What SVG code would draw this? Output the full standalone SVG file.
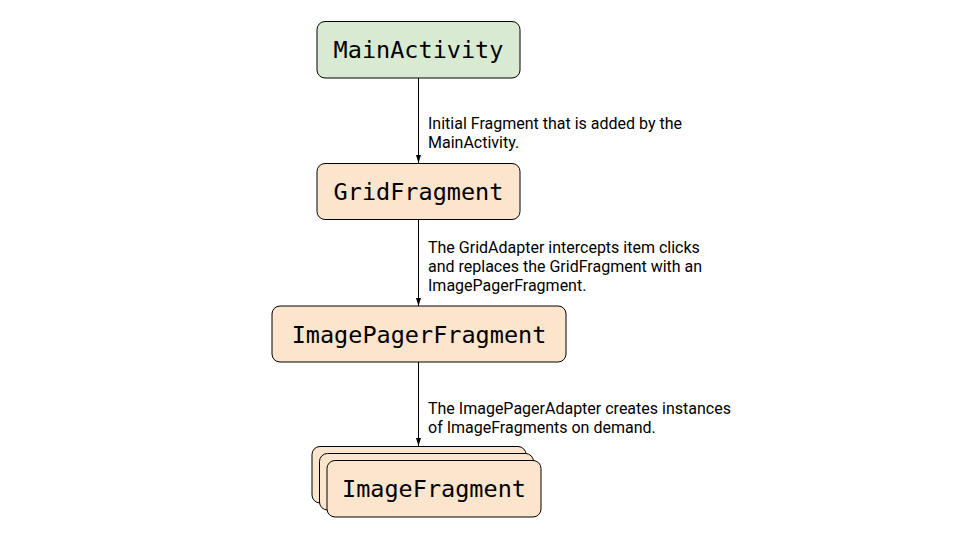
<svg xmlns="http://www.w3.org/2000/svg" width="960" height="540" viewBox="0 0 960 540">
<defs>
<style>
.box{stroke:#000;stroke-width:1;}
.g{fill:#d9ead3;}
.o{fill:#fce5cd;}
.nt{font-family:"DejaVu Sans Mono","Liberation Mono",monospace;font-size:23.5px;fill:#000;text-anchor:middle;}
.lt{font-family:Roboto,"Liberation Sans",sans-serif;font-size:16px;fill:#000;}
.c{stroke:#000;stroke-width:1;fill:none;}
</style>
<marker id="ah" viewBox="0 0 8 8" refX="8" refY="4" markerWidth="8" markerHeight="8" markerUnits="userSpaceOnUse" orient="auto">
<path d="M0,1.5 L8,4 L0,6.5 Z" fill="#000"/>
</marker>
</defs>
<rect width="960" height="540" fill="#fff"/>
<g id="connectors">
<line class="c" x1="418.5" y1="78" x2="418.5" y2="163" marker-end="url(#ah)"/>
<line class="c" x1="418.5" y1="219" x2="418.5" y2="306" marker-end="url(#ah)"/>
<line class="c" x1="418.5" y1="362" x2="418.5" y2="446" marker-end="url(#ah)"/>
<text class="lt" x="428" y="128.5">Initial Fragment that is added by the</text>
<text class="lt" x="428" y="147.5">MainActivity.</text>
<text class="lt" x="428" y="252.5">The GridAdapter intercepts item clicks</text>
<text class="lt" x="428" y="271.5">and replaces the GridFragment with an</text>
<text class="lt" x="428" y="290.5">ImagePagerFragment.</text>
<text class="lt" x="428" y="413.5">The ImagePagerAdapter creates instances</text>
<text class="lt" x="428" y="432.5">of ImageFragments on demand.</text>
</g>
<g id="MainActivity">
<rect class="box g" x="317" y="21.5" width="203" height="56.5" rx="8"/>
<text class="nt" x="418.5" y="58">MainActivity</text>
</g>
<g id="GridFragment">
<rect class="box o" x="317" y="163.5" width="203" height="56" rx="8"/>
<text class="nt" x="418.5" y="200">GridFragment</text>
</g>
<g id="ImagePagerFragment">
<rect class="box o" x="272" y="306" width="294" height="56" rx="8"/>
<text class="nt" x="419" y="342.5">ImagePagerFragment</text>
</g>
<g id="ImageFragment">
<rect class="box o" x="312" y="446.5" width="214" height="56.5" rx="8"/>
<rect class="box o" x="319.5" y="453.5" width="214" height="56.5" rx="8"/>
<rect class="box o" x="327" y="460.5" width="214" height="56.5" rx="8"/>
<text class="nt" x="434" y="497">ImageFragment</text>
</g>
</svg>
